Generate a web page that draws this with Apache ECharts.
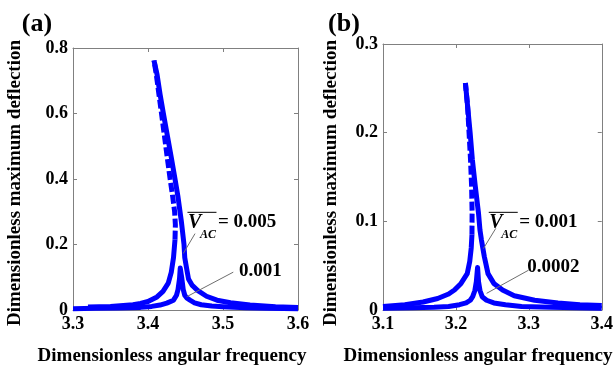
<!DOCTYPE html>
<html><head><meta charset="utf-8">
<script src="https://cdn.jsdelivr.net/npm/echarts@6/dist/echarts.min.js"></script>
<style>html,body{margin:0;padding:0;background:#fff}#c{width:616px;height:370px}</style>
</head><body><div id="c"></div>
<script>
// ---------- Panel (a) data ----------
const aXTicks = [3.3, 3.4, 3.5, 3.6];
const aYTicks = [0, 0.2, 0.4, 0.6, 0.8];
// V_AC = 0.005: lower stable branch, unstable branch (dashed), upper stable branch
const aBigLowerFreq = [3.32, 3.35, 3.38, 3.39, 3.40, 3.412, 3.420, 3.427, 3.431, 3.434, 3.436];
const aBigLowerAmp  = [0.009, 0.011, 0.016, 0.020, 0.026, 0.040, 0.057, 0.082, 0.115, 0.160, 0.215];
const aBigUnstFreq  = [3.436, 3.4365, 3.4355, 3.433, 3.4295, 3.426, 3.422, 3.418, 3.4145, 3.411, 3.408];
const aBigUnstAmp   = [0.215, 0.26, 0.30, 0.345, 0.40, 0.46, 0.53, 0.60, 0.66, 0.72, 0.762];
const aBigUpperFreq = [3.408, 3.412, 3.416, 3.4205, 3.426, 3.4315, 3.436, 3.440, 3.4445, 3.448, 3.449, 3.452, 3.454, 3.459, 3.466, 3.478, 3.492, 3.51, 3.536, 3.57, 3.60];
const aBigUpperAmp  = [0.762, 0.72, 0.66, 0.60, 0.53, 0.46, 0.40, 0.345, 0.27, 0.20, 0.16, 0.12, 0.095, 0.075, 0.060, 0.042, 0.030, 0.022, 0.015, 0.010, 0.008];
// V_AC = 0.001
const aSmallFreq = [3.30, 3.33, 3.36, 3.39, 3.405, 3.416, 3.425, 3.434, 3.438, 3.440, 3.442, 3.443, 3.445, 3.447, 3.449, 3.452, 3.456, 3.462, 3.471, 3.485, 3.50, 3.53, 3.56, 3.60];
const aSmallAmp  = [0.004, 0.005, 0.006, 0.008, 0.011, 0.015, 0.021, 0.030, 0.045, 0.062, 0.095, 0.128, 0.098, 0.062, 0.045, 0.036, 0.030, 0.022, 0.016, 0.012, 0.010, 0.007, 0.005, 0.004];
// annotation leaders and anchors (data coords)
const aLeadBigFreq = [3.447, 3.4627], aLeadBigAmp = [0.1725, 0.2333];
const aLeadSmallFreq = [3.4516, 3.5137], aLeadSmallAmp = [0.0405, 0.1156];
const aVAnchor = [3.4533, 0.2662], aSmallAnchor = [3.5213, 0.1186];
const aBigText = '= 0.005', aSmallText = '0.001';

// ---------- Panel (b) data ----------
const bXTicks = [3.1, 3.2, 3.3, 3.4];
const bYTicks = [0, 0.1, 0.2, 0.3];
// V_AC = 0.001
const bBigLowerFreq = [3.10, 3.13, 3.155, 3.175, 3.19, 3.198, 3.207, 3.2155, 3.219, 3.221, 3.222];
const bBigLowerAmp  = [0.004, 0.006, 0.009, 0.013, 0.018, 0.0225, 0.030, 0.041, 0.055, 0.070, 0.085];
const bBigUnstFreq  = [3.222, 3.2222, 3.2215, 3.220, 3.218, 3.216, 3.213];
const bBigUnstAmp   = [0.085, 0.11, 0.14, 0.17, 0.20, 0.23, 0.256];
const bBigUpperFreq = [3.213, 3.216, 3.2195, 3.2225, 3.2265, 3.231, 3.233, 3.235, 3.239, 3.244, 3.252, 3.264, 3.28, 3.308, 3.34, 3.37, 3.40];
const bBigUpperAmp  = [0.256, 0.23, 0.20, 0.17, 0.14, 0.109, 0.09, 0.079, 0.06, 0.041, 0.03, 0.0225, 0.016, 0.011, 0.008, 0.006, 0.005];
// V_AC = 0.0002
const bSmallFreq = [3.10, 3.14, 3.17, 3.19, 3.205, 3.214, 3.2197, 3.223, 3.226, 3.228, 3.2297, 3.231, 3.233, 3.236, 3.242, 3.252, 3.268, 3.29, 3.33, 3.40];
const bSmallAmp  = [0.002, 0.0025, 0.003, 0.004, 0.006, 0.008, 0.011, 0.015, 0.022, 0.032, 0.048, 0.032, 0.022, 0.015, 0.011, 0.008, 0.006, 0.004, 0.003, 0.002];
const bLeadBigFreq = [3.2377, 3.2547], bLeadBigAmp = [0.0693, 0.0921];
const bLeadSmallFreq = [3.2421, 3.2996], bLeadSmallAmp = [0.0188, 0.0449];
const bVAnchor = [3.2457, 0.0983], bSmallAnchor = [3.2979, 0.0483];
const bBigText = '= 0.001', bSmallText = '0.0002';

const xTitle = 'Dimensionless angular frequency';
const yTitle = 'Dimensionless maximum deflection';

// ---------- build ----------
const FONT = '"Liberation Serif", "Times New Roman", serif';
const BLUE = '#0000ff';
const AXC = '#808080';
const zip = (xs, ys) => xs.map((x, i) => [x, ys[i]]);

function xAx(grid, ticks, pos, show) {
  return {
    type: 'value', gridIndex: grid, position: pos,
    min: ticks[0], max: ticks[ticks.length - 1], interval: +(ticks[1] - ticks[0]).toFixed(6),
    axisLine: { show: true, onZero: false, lineStyle: { color: AXC, width: 1 } },
    axisTick: { show: true, inside: true, length: 4, lineStyle: { color: AXC } },
    axisLabel: { show: show, color: '#000', fontFamily: FONT, fontWeight: 'bold', fontSize: 18, margin: 5,
      formatter: v => v.toFixed(1) },
    splitLine: { show: false }
  };
}
function yAx(grid, ticks, pos, show) {
  return {
    type: 'value', gridIndex: grid, position: pos,
    min: ticks[0], max: ticks[ticks.length - 1], interval: +(ticks[1] - ticks[0]).toFixed(6),
    axisLine: { show: true, onZero: false, lineStyle: { color: AXC, width: 1 } },
    axisTick: { show: true, inside: true, length: 4, lineStyle: { color: AXC } },
    axisLabel: { show: show, color: '#000', fontFamily: FONT, fontWeight: 'bold', fontSize: 18, margin: 5,
      formatter: v => Math.abs(v) < 1e-9 ? '0' : v.toFixed(1) },
    splitLine: { show: false }
  };
}
function curve(xi, yi, xs, ys, dashed, color, width) {
  return {
    type: 'line', xAxisIndex: xi, yAxisIndex: yi, data: zip(xs, ys),
    symbol: 'none', showSymbol: false, clip: false, silent: true, animation: false,
    lineStyle: { color: color || BLUE, width: width || 5, type: dashed ? [9, 3] : 'solid', cap: 'butt', join: 'round' },
    z: color ? 3 : 2
  };
}

const option = {
  backgroundColor: '#fff',
  animation: false,
  grid: [
    { left: 73, right: 318, top: 48, bottom: 60, show: false },
    { left: 383, right: 7, top: 44, bottom: 60, show: false }
  ],
  xAxis: [xAx(0, aXTicks, 'bottom', true), xAx(0, aXTicks, 'top', false),
          xAx(1, bXTicks, 'bottom', true), xAx(1, bXTicks, 'top', false)],
  yAxis: [yAx(0, aYTicks, 'left', true), yAx(0, aYTicks, 'right', false),
          yAx(1, bYTicks, 'left', true), yAx(1, bYTicks, 'right', false)],
  series: [
    curve(0, 0, aSmallFreq, aSmallAmp, false),
    curve(0, 0, aBigLowerFreq, aBigLowerAmp, false),
    curve(0, 0, aBigUnstFreq, aBigUnstAmp, true),
    curve(0, 0, aBigUpperFreq, aBigUpperAmp, false),
    curve(0, 0, aLeadBigFreq, aLeadBigAmp, false, '#6e6e6e', 1),
    curve(0, 0, aLeadSmallFreq, aLeadSmallAmp, false, '#6e6e6e', 1),
    curve(2, 2, bSmallFreq, bSmallAmp, false),
    curve(2, 2, bBigLowerFreq, bBigLowerAmp, false),
    curve(2, 2, bBigUnstFreq, bBigUnstAmp, true),
    curve(2, 2, bBigUpperFreq, bBigUpperAmp, false),
    curve(2, 2, bLeadBigFreq, bLeadBigAmp, false, '#6e6e6e', 1),
    curve(2, 2, bLeadSmallFreq, bLeadSmallAmp, false, '#6e6e6e', 1)
  ]
};

const chart = echarts.init(document.getElementById('c'), null, { renderer: 'canvas', width: 616, height: 370 });
chart.setOption(option);

const P = (xi, yi, pt) => chart.convertToPixel({ xAxisIndex: xi, yAxisIndex: yi }, pt);
function txt(x, y, text, font, align, rot) {
  return { type: 'text', x: x, y: y, rotation: rot || 0, z: 50,
    style: { text: text, font: font, fill: '#000', align: align || 'left', verticalAlign: 'middle' } };
}
function vacGroup(anchorPx, valueText) {
  const [vx, vy] = anchorPx;
  return [
    txt(vx, vy, 'V', 'italic bold 20px ' + FONT),
    txt(vx + 12, vy + 12.5, 'AC', 'italic bold 12px ' + FONT),
    txt(vx + 30, vy - 0.5, valueText, 'bold 19px ' + FONT),
    { type: 'line', z: 50, shape: { x1: vx - 0.5, y1: vy - 10.5, x2: vx + 28.5, y2: vy - 10.5 },
      style: { stroke: '#000', lineWidth: 1 } }
  ];
}
const aV = P(0, 0, aVAnchor), aS = P(0, 0, aSmallAnchor);
const bV = P(2, 2, bVAnchor), bS = P(2, 2, bSmallAnchor);
const TF = 'bold 19px ' + FONT;
chart.setOption({
  graphic: [].concat(
    vacGroup(aV, aBigText),
    [txt(aS[0], aS[1], aSmallText, 'bold 19px ' + FONT)],
    vacGroup(bV, bBigText),
    [txt(bS[0], bS[1], bSmallText, 'bold 19px ' + FONT)],
    [
      txt(37, 24, '(a)', 'bold 26px ' + FONT, 'center'),
      txt(344, 24, '(b)', 'bold 26px ' + FONT, 'center'),
      txt(172, 356, xTitle, TF, 'center'),
      txt(478, 356, xTitle, TF, 'center'),
      txt(15, 183, yTitle, TF, 'center', Math.PI / 2),
      txt(331, 183, yTitle, TF, 'center', Math.PI / 2)
    ]
  )
});
</script>
</body></html>
